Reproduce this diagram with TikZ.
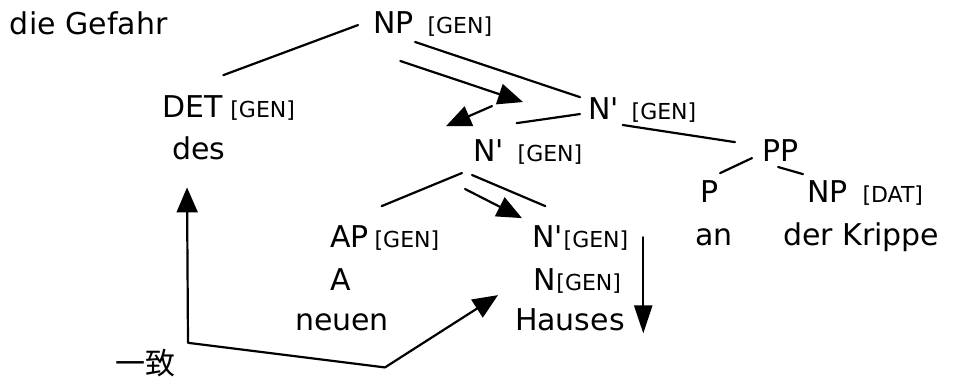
\documentclass[tikz,border=0pt]{standalone}
\usepackage{fontspec}
\usepackage{tikz}
\usetikzlibrary{arrows.meta, calc, positioning}
\newfontfamily\treefont{DejaVu Sans}
\newfontfamily\cjkfont{Noto Sans CJK JP}
\definecolor{tree-ink}{HTML}{000000}

\begin{document}
\begin{tikzpicture}[x=0.5pt, y=-0.5pt, >={Triangle[length=12.5pt, width=10.5pt]},
    line cap=round, line join=round,
    every node/.style={inner sep=0pt, outer sep=0pt, anchor=base west, text=tree-ink},
    cat/.style={font=\treefont\fontsize{15}{18}\selectfont},
    feat/.style={font=\treefont\fontsize{11}{13}\selectfont},
    branch/.style={line width=1.1pt, draw=tree-ink}]
  \useasboundingbox (0,0) rectangle (978,379);
  % knuder
  \node[cat] (gefahr) at (10,35) {die Gefahr};
  \node[cat] (np) at (373,34) {NP};
  \node[feat, right=7pt of np.base east, anchor=base west] (np-f) {[GEN]};
  \node[cat] (det) at (162,118) {DET};
  \node[feat, right=4pt of det.base east, anchor=base west] (det-f) {[GEN]};
  \node[cat] (des) at (172,160) {des};
  \node[cat] (nb1) at (588,120) {N'};
  \node[feat, right=6.5pt of nb1.base east, anchor=base west] (nb1-f) {[GEN]};
  \node[cat] (nb2) at (473,162) {N'};
  \node[feat, right=7pt of nb2.base east, anchor=base west] (nb2-f) {[GEN]};
  \node[cat] (pp) at (762,162) {PP};
  \node[cat] (p) at (700,203) {P};
  \node[cat] (npd) at (807,203) {NP};
  \node[feat, right=7.5pt of npd.base east, anchor=base west] (npd-f) {[DAT]};
  \node[cat] (an) at (695,245) {an};
  \node[cat] (krippe) at (783,245) {der Krippe};
  \node[cat] (ap) at (330,247) {AP};
  \node[feat, right=3pt of ap.base east, anchor=base west] (ap-f) {[GEN]};
  \node[cat] (nb3) at (532,247) {N'};
  \node[feat, right=0.5pt of nb3.base east, anchor=base west] (nb3-f) {[GEN]};
  \node[cat] (a) at (330,290) {A};
  \node[cat] (n) at (533,290) {N};
  \node[feat, right=0.5pt of n.base east, anchor=base west] (n-f) {[GEN]};
  \node[cat] (neuen) at (295,330) {neuen};
  \node[cat] (hauses) at (515,330) {Hauses};
  \node[font=\cjkfont\fontsize{15}{18}\selectfont] (agree) at (115,374) {一致};
  % grene
  \draw[branch] ($(np.west)+(-15,2)$) -- ($(det.north east)+(1,-21)$);
  \draw[branch] ($(np.south east)+(1.5,8)$) -- ($(nb1.north west)+(-8,-1)$);
  \draw[branch] ($(nb1.west)+(-8,5)$) -- ($(nb2.north east)+(13,-17)$);
  \draw[branch] ($(nb1.south east)+(4,5)$) -- ($(pp.north west)+(-27,2)$);
  \draw[branch] ($(pp.west)+(-10,7)$) -- ($(p.north east)+(2,-8)$);
  \draw[branch] ($(pp.south)+(-2,5)$) -- ($(npd.north west)+(-4,-7)$);
  \draw[branch] ($(nb2.south west)+(-11,11)$) -- ($(ap.north east)+(13,-19)$);
  \draw[branch] ($(nb2.south west)+(-1,13)$) -- ($(nb3.north)+(-2,-19)$);
  % kongruens
  \draw[branch, ->] ($(np.south)+(7,27)$) -- ($(nb1.west)+(-65,-7)$);
  \draw[branch, ->] ($(nb1.west)+(-96,-3)$) -- ($(nb2.north west)+(-27,-14)$);
  \draw[branch, ->] ($(nb2.south west)+(-8,27)$) -- ($(nb3.north west)+(-10,-7)$);
  \coordinate (drop) at ($(nb3-f.north east)+(15,7)$);
  \draw[branch, -{Triangle[length=14pt, width=9pt]}] (drop) -- ($(drop |- hauses.south)+(0,3)$);
  \coordinate (corner) at ($(agree.north east)+(13,-6)$);
  \coordinate (bend) at ($(neuen.south east)+(-4,37)$);
  \draw[branch, <->] ($(des.south west)+(15,27)$) -- (corner) -- (bend) -- ($(hauses.north west)+(-17,-13)$);
\end{tikzpicture}
\end{document}
